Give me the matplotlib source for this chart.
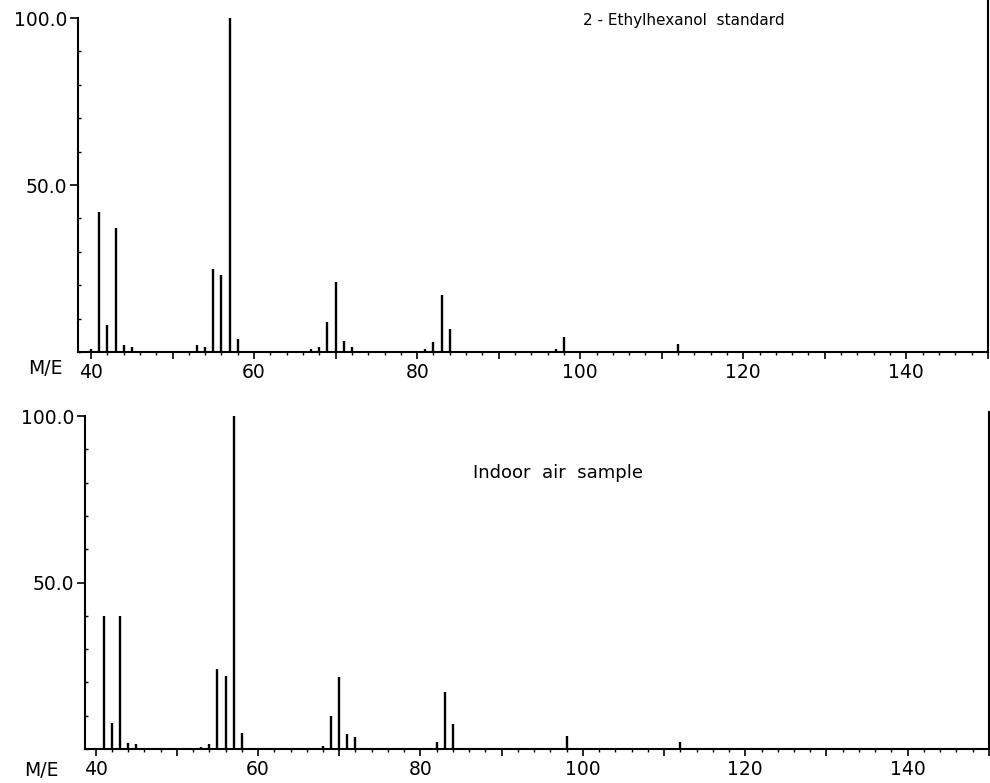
import numpy as np
import matplotlib
matplotlib.use("Agg")
import matplotlib.pyplot as plt
from matplotlib.ticker import MultipleLocator, FuncFormatter

# m/z and relative intensity (%)
mz_std = [40, 41, 42, 43, 44, 45, 53, 54, 55, 56, 57, 58, 67, 68, 69, 70, 71, 72,
          81, 82, 83, 84, 97, 98, 112]
int_std = [1, 42, 8, 37, 2, 1.5, 2, 1.5, 25, 23, 100, 4, 1, 1.5, 9, 21, 3.3, 1.5,
           1, 3, 17, 7, 1, 4.5, 2.4]

mz_air = [41, 42, 43, 44, 45, 53, 54, 55, 56, 57, 58, 68, 69, 70, 71, 72,
          82, 83, 84, 98, 112]
int_air = [40, 7.8, 40, 1.8, 1.5, 0.5, 1.5, 24, 22, 100, 4.8, 0.8, 9.9, 21.7, 4.5, 3.6,
           2.2, 17, 7.5, 4, 2]

x_labels = [40, 60, 80, 100, 120, 140]
y_labels = [50.0, 100.0]

fig = plt.figure(figsize=(9.9, 7.83), dpi=100)

# top axes reaches the top edge so the right frame line runs above 100
ax1 = fig.add_axes([0.0788, 0.5504, 0.919, 0.4496])
ax2 = fig.add_axes([0.0859, 0.0434, 0.913, 0.4304])

panels = [
    (ax1, mz_std, int_std, (38.4, 150.0), 105.4, "2 - Ethylhexanol  standard", 100.4, 99.3, 11,
     (45, 368)),
    (ax2, mz_air, int_air, (38.7, 150.0), 101.2, "Indoor  air  sample", 86.5, 82.9, 13,
     (41, 770)),
]

def xfmt(v, pos):
    v = int(round(v))
    return str(v) if v in x_labels else ""

for ax, mz, inten, xl, ytop, label, tx, ty, fs, me in panels:
    ax.vlines(mz, 0, inten, colors="black", linewidth=1.7)
    ax.set_xlim(*xl)
    ax.set_ylim(0, ytop)

    ax.spines["top"].set_visible(False)
    for s in ["left", "right", "bottom"]:
        ax.spines[s].set_linewidth(1.5)
    ax.spines["left"].set_bounds(0, 100)

    ax.xaxis.set_major_locator(MultipleLocator(10))
    ax.xaxis.set_minor_locator(MultipleLocator(2))
    ax.xaxis.set_major_formatter(FuncFormatter(xfmt))
    ax.set_yticks(y_labels)
    ax.set_yticklabels([f"{v:.1f}" for v in y_labels])
    ax.yaxis.set_minor_locator(MultipleLocator(10))

    ax.tick_params(axis="x", which="major", direction="out", length=5, width=1.2,
                   labelsize=13.5, pad=3)
    ax.tick_params(axis="x", which="minor", direction="out", length=2.5, width=1.0)
    ax.tick_params(axis="y", which="major", direction="out", length=6, width=1.2,
                   labelsize=13.5, pad=2)
    ax.tick_params(axis="y", which="minor", direction="in", length=2, width=1.0)
    ax.tick_params(right=False, top=False, which="both")

    fig.text(me[0] / 990, 1 - me[1] / 783, "M/E", ha="center", va="center", fontsize=13.5)
    ax.text(tx, ty, label, ha="left", va="center", fontsize=fs)

fig.savefig("out.png", dpi=100)
